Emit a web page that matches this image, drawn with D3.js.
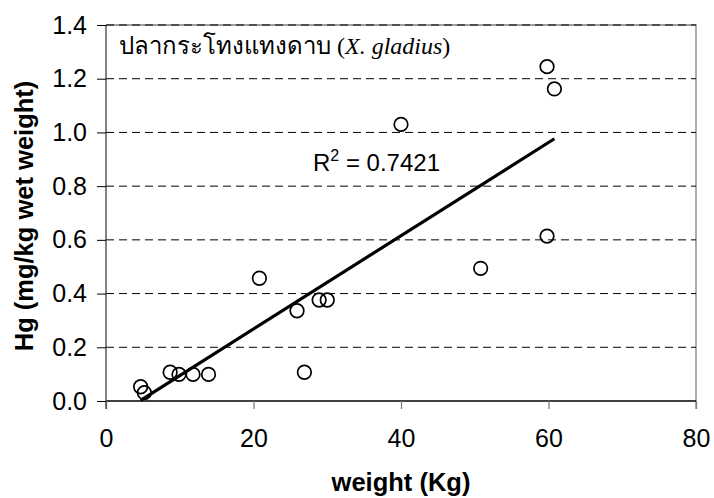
<!DOCTYPE html>
<html><head><meta charset="utf-8">
<script src="https://cdn.jsdelivr.net/npm/d3@7"></script>
<style>body{margin:0;background:#fff}</style>
</head><body>
<svg id="c" width="714" height="498"></svg>
<script>
const weights = [4.7, 5.2, 8.7, 9.9, 11.8, 13.9, 20.8, 25.9, 26.9, 28.9, 30.0, 40.0, 50.8, 59.8, 60.8, 59.8];
const hg      = [0.053, 0.031, 0.107, 0.099, 0.099, 0.099, 0.457, 0.336, 0.107, 0.376, 0.376, 1.03, 0.494, 1.245, 1.162, 0.614];
const xTicks = [0, 20, 40, 60, 80];
const yTicks = [0.0, 0.2, 0.4, 0.6, 0.8, 1.0, 1.2, 1.4];
const r2Label = "0.7421";
const titleThai = "ปลากระโทงแทงดาบ ";
const titleSci = "X. gladius";

const svg = d3.select("#c");
const L = 106, R = 696, T = 25, B = 401;
const x = d3.scaleLinear().domain([0, 80]).range([L, R]);
const y = d3.scaleLinear().domain([0, 1.4]).range([B, T]);
const SANS = "Liberation Sans, Arial, sans-serif";

// frame top/right border
svg.append("path").attr("d", `M${L},${T}H${R}V${B + 8}`)
  .attr("fill", "none").attr("stroke", "#808080").attr("stroke-width", 1.3);

// gridlines
svg.append("g").selectAll("line").data(yTicks.filter(d => d > 0)).join("line")
  .attr("x1", L).attr("x2", R).attr("y1", d => y(d)).attr("y2", d => y(d))
  .attr("stroke", "#000").attr("stroke-width", 1).attr("stroke-dasharray", "8,5");

// axes
const xAxis = d3.axisBottom(x).tickValues(xTicks).tickSize(8).tickFormat(d3.format("d")).tickPadding(20);
const gx = svg.append("g").attr("transform", `translate(0,${B})`).call(xAxis);
gx.select(".domain").attr("stroke", "#000").attr("stroke-width", 1.3).attr("d", `M${L},0H${R}`);
gx.selectAll(".tick line").attr("stroke", "#808080").attr("stroke-width", 1.3);
gx.selectAll("text").attr("font-family", SANS).attr("font-size", 25).attr("fill", "#000");

const yAxis = d3.axisLeft(y).tickValues(yTicks).tickSize(9).tickFormat(d3.format(".1f")).tickPadding(10);
const gy = svg.append("g").attr("transform", `translate(${L},0)`).call(yAxis);
gy.select(".domain").attr("stroke", "#404040").attr("stroke-width", 1.3).attr("d", `M0,${B + 8}V${T}`);
gy.selectAll(".tick line").attr("stroke", "#000").attr("stroke-width", 1);
gy.selectAll("text").attr("font-family", SANS).attr("font-size", 25).attr("fill", "#000");

// regression line
const n = weights.length;
const mx = d3.mean(weights), my = d3.mean(hg);
let sxy = 0, sxx = 0;
for (let i = 0; i < n; i++) { sxy += (weights[i] - mx) * (hg[i] - my); sxx += (weights[i] - mx) ** 2; }
const slope = sxy / sxx, icpt = my - slope * mx;
const x0 = Math.max(d3.min(weights), -icpt / slope), x1 = d3.max(weights);
svg.append("line")
  .attr("x1", x(x0)).attr("y1", y(slope * x0 + icpt))
  .attr("x2", x(x1)).attr("y2", y(slope * x1 + icpt))
  .attr("stroke", "#000").attr("stroke-width", 3.2);

// points
svg.append("g").selectAll("circle").data(weights.map((w, i) => [w, hg[i]])).join("circle")
  .attr("cx", d => x(d[0])).attr("cy", d => y(d[1])).attr("r", 6.8)
  .attr("fill", "none").attr("stroke", "#000").attr("stroke-width", 1.7);

// R2 label
const rt = svg.append("text").attr("x", 313).attr("y", 171)
  .attr("font-family", SANS).attr("font-size", 24).attr("fill", "#000");
rt.append("tspan").text("R");
rt.append("tspan").attr("dy", -10).attr("font-size", 16).text("2");
rt.append("tspan").attr("dy", 10).text(" = " + r2Label);

// title
const tt = svg.append("text").attr("x", 119).attr("y", 54)
  .attr("font-family", "Liberation Serif, Times New Roman, serif").attr("font-size", 24).attr("fill", "#000");
tt.append("tspan").text(titleThai + "(");
tt.append("tspan").attr("font-style", "italic").text(titleSci);
tt.append("tspan").text(")");

// axis titles
svg.append("text").attr("x", 401).attr("y", 491).attr("text-anchor", "middle")
  .attr("font-family", SANS).attr("font-size", 25.5).attr("font-weight", "bold")
  .text("weight (Kg)");
svg.append("text").attr("transform", `translate(33,216) rotate(-90)`).attr("text-anchor", "middle")
  .attr("font-family", SANS).attr("font-size", 25.5).attr("font-weight", "bold")
  .text("Hg (mg/kg wet weight)");
</script>
</body></html>
